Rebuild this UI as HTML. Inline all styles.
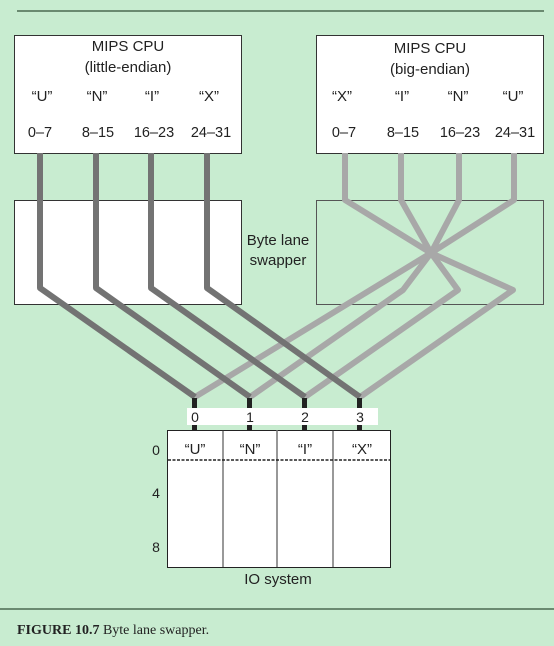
<!DOCTYPE html>
<html><head><meta charset="utf-8"><style>
html,body{margin:0;padding:0;background:#c8ecd0;}
svg{display:block;font-family:"Liberation Sans",sans-serif;}
</style></head><body>
<svg width="554" height="646" viewBox="0 0 554 646">
<rect x="0" y="0" width="554" height="646" fill="#c8ecd0"/>
<line x1="17" y1="11" x2="544" y2="11" stroke="#4a6a50" stroke-width="1.5"/>

<g>
<rect x="14.5" y="35.5" width="227" height="118" fill="#fff" stroke="#333"/>
<text x="128" y="51" font-size="15" text-anchor="middle" fill="#222">MIPS CPU</text>
<text x="128" y="72" font-size="15" text-anchor="middle" fill="#222">(little-endian)</text>
<g font-size="15" text-anchor="middle" fill="#222">
<text x="42" y="101">“U”</text><text x="97" y="101">“N”</text><text x="152" y="101">“I”</text><text x="209" y="101">“X”</text>
</g>
<g font-size="14.5" text-anchor="middle" fill="#222">
<text x="40" y="137">0–7</text><text x="98" y="137">8–15</text><text x="154" y="137">16–23</text><text x="211" y="137">24–31</text>
</g></g>

<g>
<rect x="316.5" y="35.5" width="227" height="118" fill="#fff" stroke="#333"/>
<text x="430" y="53" font-size="15" text-anchor="middle" fill="#222">MIPS CPU</text>
<text x="430" y="74" font-size="15" text-anchor="middle" fill="#222">(big-endian)</text>
<g font-size="15" text-anchor="middle" fill="#222">
<text x="342" y="101">“X”</text><text x="402" y="101">“I”</text><text x="458" y="101">“N”</text><text x="513" y="101">“U”</text>
</g>
<g font-size="14.5" text-anchor="middle" fill="#222">
<text x="344" y="137">0–7</text><text x="403" y="137">8–15</text><text x="460" y="137">16–23</text><text x="515" y="137">24–31</text>
</g></g>

<rect x="14.5" y="200.5" width="227" height="104" fill="#fff" stroke="#333"/>
<rect x="316.5" y="200.5" width="227" height="104" fill="#c8ecd0" stroke="#555"/>
<text x="278" y="245" font-size="15" text-anchor="middle" fill="#222">Byte lane</text>
<text x="278" y="265" font-size="15" text-anchor="middle" fill="#222">swapper</text>

<g fill="none" stroke="#a8a8a8" stroke-width="6" stroke-linejoin="round">
<polyline points="345,153 345,200 431,253 513,290 360,397"/>
<polyline points="401,153 401,200 431,253 458,290 305,397"/>
<polyline points="459,153 459,200 431,253 403,290 250,397"/>
<polyline points="514,153 514,200 431,253 195,397"/>
</g>
<g fill="none" stroke="#737373" stroke-width="6" stroke-linejoin="round">
<polyline points="40,153 40,288 195,397"/>
<polyline points="96,153 96,288 250,397"/>
<polyline points="151,153 151,288 305,397"/>
<polyline points="207,153 207,288 360,397"/>
</g>

<g fill="#222">
<rect x="192" y="398" width="5" height="32"/><rect x="247" y="398" width="5" height="32"/>
<rect x="302" y="398" width="5" height="32"/><rect x="357" y="398" width="5" height="32"/>
</g>
<rect x="187" y="408" width="191" height="17" fill="#fff"/>
<g font-size="14" text-anchor="middle" fill="#222">
<text x="195" y="422">0</text><text x="250" y="422">1</text><text x="305" y="422">2</text><text x="360" y="422">3</text>
</g>

<g>
<rect x="167.5" y="430.5" width="223" height="137" fill="#fff" stroke="#222"/>
<line x1="223" y1="430" x2="223" y2="567" stroke="#333"/>
<line x1="277" y1="430" x2="277" y2="567" stroke="#777" stroke-width="1.5"/>
<line x1="333" y1="430" x2="333" y2="567" stroke="#333"/>
<line x1="168" y1="460" x2="390" y2="460" stroke="#222" stroke-width="1.5" stroke-dasharray="3,1.5"/>
<g font-size="15" text-anchor="middle" fill="#222">
<text x="195" y="454">“U”</text><text x="250" y="454">“N”</text><text x="305" y="454">“I”</text><text x="362" y="454">“X”</text>
</g>
<g font-size="14" text-anchor="middle" fill="#222">
<text x="156" y="455">0</text><text x="156" y="498">4</text><text x="156" y="552">8</text>
</g>
<text x="278" y="584" font-size="15" text-anchor="middle" fill="#222">IO system</text>
</g>

<line x1="0" y1="609" x2="554" y2="609" stroke="#4a6a50" stroke-width="1.5"/>
<text x="17" y="634" font-family="'Liberation Serif',serif" font-size="14" fill="#222"><tspan font-weight="bold">FIGURE 10.7</tspan>  Byte lane swapper.</text>
</svg>
</body></html>
